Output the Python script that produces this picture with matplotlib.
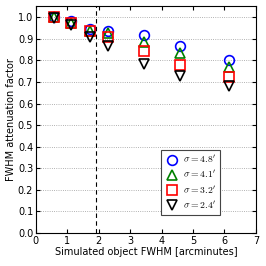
import matplotlib
matplotlib.use("Agg")
import matplotlib.pyplot as plt

plt.rcParams['mathtext.fontset'] = 'cm'
plt.rcParams['font.size'] = 7

# Data
fwhm = [0.57, 1.13, 1.73, 2.3, 3.45, 4.6, 6.13]
sig48 = [1.0, 0.98, 0.945, 0.935, 0.918, 0.865, 0.803]
sig41 = [1.0, 0.975, 0.935, 0.925, 0.887, 0.835, 0.768]
sig32 = [1.0, 0.972, 0.937, 0.91, 0.842, 0.78, 0.723]
sig24 = [0.995, 0.965, 0.91, 0.865, 0.783, 0.726, 0.68]

labels = [r"$\sigma = 4.8^\prime$", r"$\sigma = 4.1^\prime$",
          r"$\sigma = 3.2^\prime$", r"$\sigma = 2.4^\prime$"]
series = [sig48, sig41, sig32, sig24]
markers = ["o", "^", "s", "v"]
colors = ["b", "g", "r", "k"]
cutoff = 1.9

fig = plt.figure(figsize=(2.66, 2.66), dpi=100)
ax = fig.add_axes([0.135, 0.124, 0.827, 0.852])

for vals, m, c, lab in zip(series, markers, colors, labels):
    ax.plot(fwhm, vals, linestyle="none", marker=m, markersize=7,
            markerfacecolor="none", markeredgecolor=c, markeredgewidth=1.2,
            label=lab)

ax.axvline(cutoff, color="k", linestyle=(0, (4, 3)), linewidth=0.8)

ax.set_xlim(0, 7)
ax.set_ylim(0, 1.05)
ax.set_yticks([0.0, 0.1, 0.2, 0.3, 0.4, 0.5, 0.6, 0.7, 0.8, 0.9, 1.0])
ax.yaxis.grid(True, linestyle=":", color="#999999", linewidth=0.6)
ax.tick_params(direction="in", top=True, right=True, labelsize=7, length=3, pad=2)
ax.set_xlabel("Simulated object FWHM [arcminutes]", fontsize=7, labelpad=1)
ax.set_ylabel("FWHM attenuation factor", fontsize=7, labelpad=1)

leg = ax.legend(loc="lower right", bbox_to_anchor=(0.86, 0.06), fontsize=7,
                fancybox=False, edgecolor="#444444", framealpha=1, numpoints=1,
                handlelength=1.5, handletextpad=0.4, labelspacing=0.4,
                borderpad=0.4)
leg.get_frame().set_linewidth(0.8)

fig.savefig("out.png", dpi=100)
